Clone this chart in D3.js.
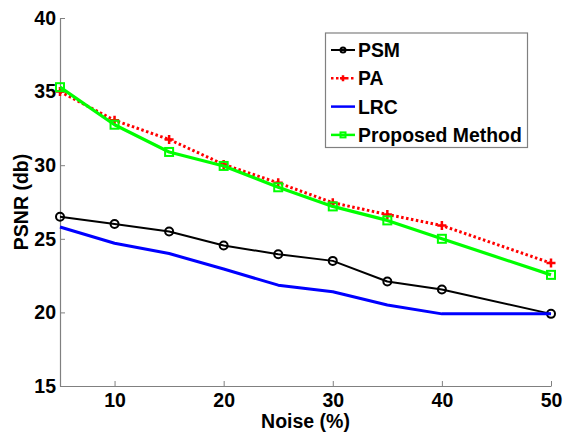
<!DOCTYPE html>
<html>
<head>
<meta charset="utf-8">
<script src="https://cdn.jsdelivr.net/npm/d3@7"></script>
<style>
  html, body { margin: 0; padding: 0; background: #fff; }
  svg { display: block; }
  text { font-family: Arial, "Liberation Sans", sans-serif; }
</style>
</head>
<body>
<svg id="chart" width="564" height="434"></svg>
<script>
// Noise level (%) on the x axis
const noise = [5, 10, 15, 20, 25, 30, 35, 40, 50];

// PSNR (db) for each method
const psm      = [26.5, 26.0, 25.5, 24.55, 23.95, 23.5, 22.1, 21.55, 19.9];
const pa       = [35.0, 33.05, 31.75, 30.05, 28.8, 27.45, 26.65, 25.9, 23.35];
const lrc      = [25.8, 24.7, 24.0, 22.95, 21.85, 21.4, 20.5, 19.9, 19.9];
const proposed = [35.3, 32.75, 30.9, 29.95, 28.5, 27.2, 26.25, 25.0, 22.55];

const xTicks = [10, 20, 30, 40, 50];
const yTicks = [15, 20, 25, 30, 35, 40];
const seriesNames = ["PSM", "PA", "LRC", "Proposed Method"];

const svg = d3.select("#chart");

const x = d3.scaleLinear().domain([5, 50]).range([60, 551]);
const y = d3.scaleLinear().domain([15, 40]).range([386, 18]);

// Axes (ticks pointing inward)
const axisColor = "#808080";
const gx = svg.append("g")
  .attr("transform", `translate(0,${y(15)})`)
  .call(d3.axisBottom(x).tickValues(xTicks).tickSize(-5).tickPadding(7.5).tickSizeOuter(0));
const gy = svg.append("g")
  .attr("transform", `translate(${x(5)},0)`)
  .call(d3.axisLeft(y).tickValues(yTicks).tickSize(-5).tickPadding(4).tickSizeOuter(0));

[gx, gy].forEach(g => {
  g.select(".domain").attr("stroke", axisColor).attr("stroke-width", 1.2);
  g.selectAll(".tick line").attr("stroke", axisColor).attr("stroke-width", 1);
  g.selectAll(".tick text")
    .attr("fill", "#000")
    .attr("font-size", 19.5)
    .attr("font-weight", "bold")
    .attr("font-family", "Arial, 'Liberation Sans', sans-serif");
});

// Axis titles
svg.append("text")
  .attr("x", (x(5) + x(50)) / 2)
  .attr("y", 427.5)
  .attr("text-anchor", "middle")
  .attr("font-size", 19.5)
  .attr("font-weight", "bold")
  .text("Noise (%)");

svg.append("text")
  .attr("transform", `translate(27.5,${(y(15) + y(40)) / 2}) rotate(-90)`)
  .attr("text-anchor", "middle")
  .attr("font-size", 19.5)
  .attr("font-weight", "bold")
  .text("PSNR (db)");

// Series styles
const styles = [
  { name: seriesNames[0], data: psm,      color: "#000000", width: 2,   dash: null,      marker: "circle" },
  { name: seriesNames[1], data: pa,       color: "#ff0000", width: 3,   dash: "2.5,2.5", marker: "plus" },
  { name: seriesNames[2], data: lrc,      color: "#0000ff", width: 3,   dash: null,      marker: null },
  { name: seriesNames[3], data: proposed, color: "#00ff00", width: 3.2, dash: null,      marker: "square" }
];

const line = d3.line().x(d => x(d[0])).y(d => y(d[1]));

function drawMarker(g, type, cx, cy, color, size) {
  const h = size / 2;
  if (type === "circle") {
    g.append("circle").attr("cx", cx).attr("cy", cy).attr("r", h)
      .attr("fill", "none").attr("stroke", color).attr("stroke-width", 2);
  } else if (type === "plus") {
    g.append("path")
      .attr("d", `M${cx - h - 0.5},${cy}H${cx + h + 0.5}M${cx},${cy - h - 0.5}V${cy + h + 0.5}`)
      .attr("stroke", color).attr("stroke-width", 2.5).attr("fill", "none");
  } else if (type === "square") {
    g.append("rect").attr("x", cx - h).attr("y", cy - h).attr("width", size).attr("height", size)
      .attr("fill", "none").attr("stroke", color).attr("stroke-width", 2);
  }
}

styles.forEach(s => {
  const pts = noise.map((n, i) => [n, s.data[i]]);
  const g = svg.append("g");
  g.append("path")
    .attr("d", line(pts))
    .attr("fill", "none")
    .attr("stroke", s.color)
    .attr("stroke-width", s.width)
    .attr("stroke-linejoin", "round")
    .attr("stroke-dasharray", s.dash);
  if (s.marker) pts.forEach(p => drawMarker(g, s.marker, x(p[0]), y(p[1]), s.color, 8));
});

// Legend
const legend = svg.append("g");
legend.append("rect")
  .attr("x", 325.5).attr("y", 33).attr("width", 202).attr("height", 114.5)
  .attr("fill", "#fff").attr("stroke", axisColor).attr("stroke-width", 1.2);

styles.forEach((s, i) => {
  const ly = 50 + i * 28.3;
  legend.append("line")
    .attr("x1", 331).attr("x2", 355).attr("y1", ly).attr("y2", ly)
    .attr("stroke", s.color).attr("stroke-width", Math.min(s.width, 2.5))
    .attr("stroke-dasharray", s.dash);
  if (s.marker) drawMarker(legend, s.marker, 343, ly, s.color, 5);
  legend.append("text")
    .attr("x", 358).attr("y", ly).attr("dy", "0.36em")
    .attr("font-size", 19.4)
    .attr("font-weight", "bold")
    .text(s.name);
});
</script>
</body>
</html>
